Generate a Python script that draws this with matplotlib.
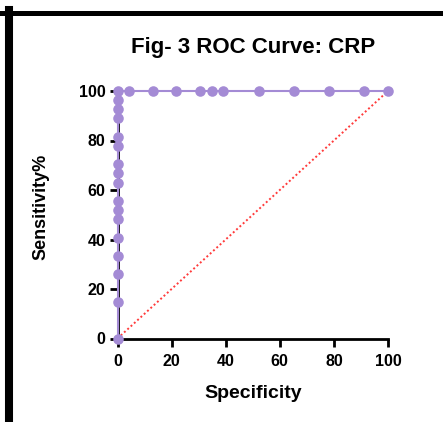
import matplotlib
matplotlib.use("Agg")
import matplotlib.pyplot as plt
from matplotlib.lines import Line2D

plt.rcParams['font.family'] = ['Liberation Sans', 'DejaVu Sans']

# ROC points (x = 100 - specificity as plotted, labelled "Specificity")
x_vals = [0]*17 + [4.35, 13.04, 21.74, 30.43, 34.78, 39.13, 52.17, 65.22, 78.26, 91.30, 100]
y_vals = [0, 14.8, 25.9, 33.3, 40.7, 48.1, 51.9, 55.6, 63.0, 66.7, 70.4, 77.8, 81.5,
          88.9, 92.6, 96.3, 100] + [100]*11
ref_x = [0, 100]
ref_y = [0, 100]
ticks = [0, 20, 40, 60, 80, 100]

purple = '#a48bd5'

fig = plt.figure(figsize=(4.43, 4.22), dpi=100)
ax = fig.add_axes([117.5/443, 1-338.5/422, (388-117.5)/443, (338.5-91)/422])

ax.plot(ref_x, ref_y, linestyle=(0, (1, 1.3)), color='#ff3b3b', linewidth=1.4, zorder=2)
ax.plot(x_vals, y_vals, color=purple, linewidth=1.5, marker='o', markersize=7.6,
        markeredgewidth=0, clip_on=False, zorder=3)

ax.set_xlim(0, 100)
ax.set_ylim(0, 100)
ax.set_xticks(ticks)
ax.set_yticks(ticks)
for s in ['top', 'right']:
    ax.spines[s].set_visible(False)
for s in ['left', 'bottom']:
    ax.spines[s].set_linewidth(2)
ax.tick_params(width=2, length=5.5, labelsize=11.5)
ax.tick_params(axis='x', pad=6)
ax.tick_params(axis='y', pad=3)
for lab in ax.get_xticklabels() + ax.get_yticklabels():
    lab.set_fontweight('bold')

ax.set_title('Fig- 3 ROC Curve: CRP', fontsize=16, fontweight='bold', pad=27)
ax.set_xlabel('Specificity', fontsize=14, fontweight='bold', labelpad=11)
ax.set_ylabel('Sensitivity%', fontsize=13, fontweight='bold')
ax.yaxis.set_label_coords(-0.25, 0.53)

# frame lines of the scanned figure
fig.add_artist(Line2D([0, 1], [1-12.5/422, 1-12.5/422], transform=fig.transFigure,
                      color='black', linewidth=3.6))
fig.add_artist(Line2D([9/443, 9/443], [0, 1-10/422], transform=fig.transFigure,
                      color='black', linewidth=5.8))

fig.savefig('out.png', dpi=100)
